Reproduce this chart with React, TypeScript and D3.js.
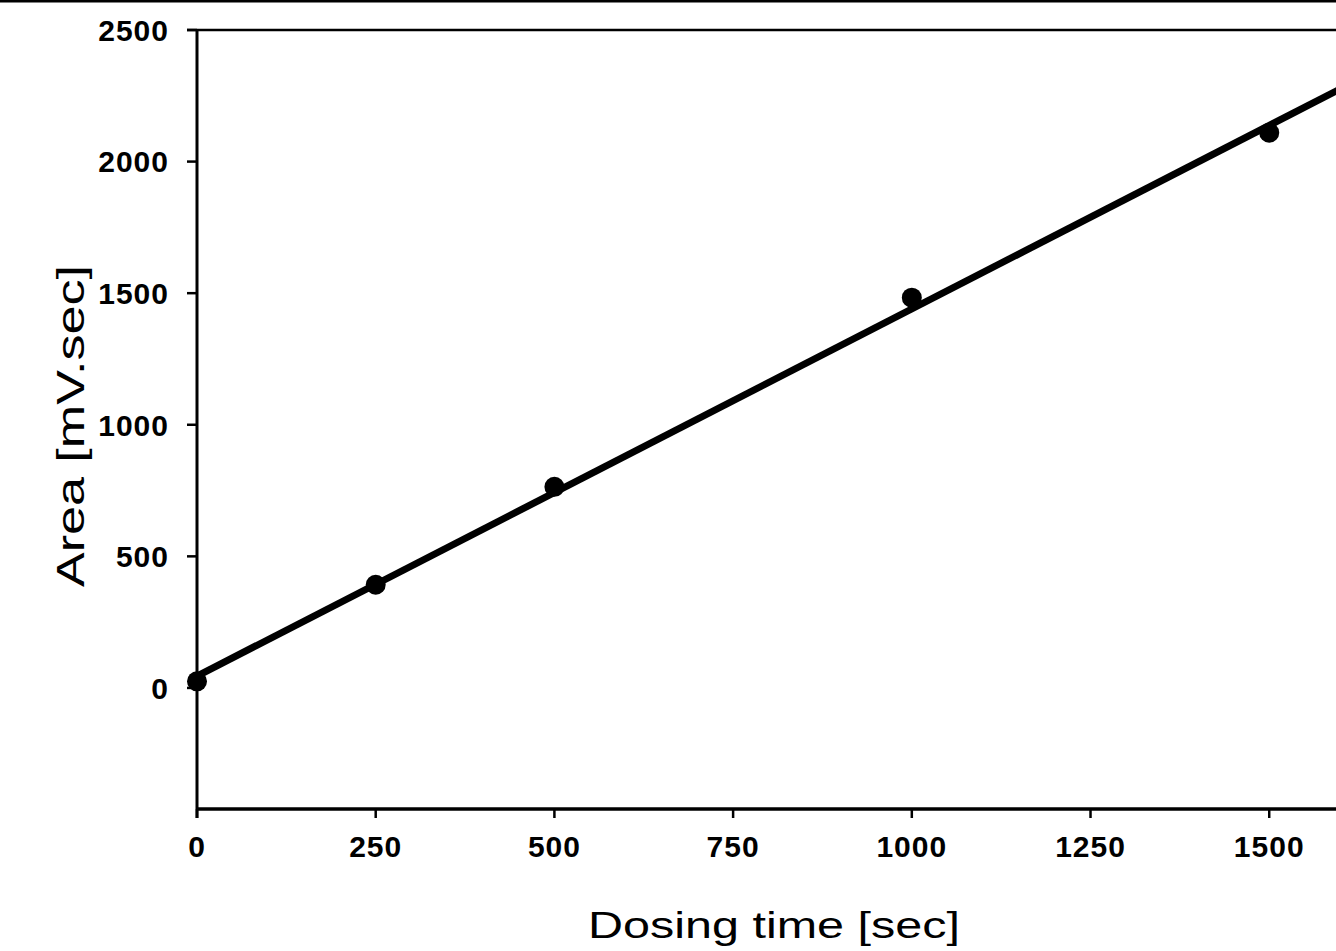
import React from "react";
import * as d3 from "d3";

const dosingTimes = [0, 250, 500, 1000, 1500];
const areas = [25, 392, 764, 1483, 2110];
const fitIntercept = 45;
const fitSlope = 1.395;
const xTicks = [0, 250, 500, 750, 1000, 1250, 1500];
const yTicks = [0, 500, 1000, 1500, 2000, 2500];
const xTitle = "Dosing time [sec]";
const yTitle = "Area [mV.sec]";

export default function App() {
  const W = 1336;
  const H = 951;
  const x = d3.scaleLinear().domain([0, 1600]).range([197, 1340.7]);
  const y = d3.scaleLinear().domain([-460, 2500]).range([809, 30]);
  const fitLine = d3
    .line<number>()
    .x((d) => x(d))
    .y((d) => y(fitIntercept + fitSlope * d));
  const tickFont = "'Liberation Sans', Arial, sans-serif";

  return (
    <svg
      width={W}
      height={H}
      viewBox={`0 0 ${W} ${H}`}
      style={{ position: "absolute", left: 0, top: 0, background: "#fff" }}
    >
      <rect x={0} y={0} width={W} height={H} fill="#fff" />
      {/* scan top border */}
      <rect x={0} y={0} width={W} height={2.5} fill="#000" />
      {/* top frame */}
      <line x1={187} x2={W} y1={y(2500)} y2={y(2500)} stroke="#000" strokeWidth={2.5} />
      {/* y axis */}
      <line x1={x(0)} x2={x(0)} y1={y(2500)} y2={818} stroke="#000" strokeWidth={3} />
      {/* x axis */}
      <line x1={x(0)} x2={W} y1={y(-460)} y2={y(-460)} stroke="#000" strokeWidth={3.5} />
      {yTicks.map((t) => (
        <g key={"y" + t}>
          <line x1={187} x2={x(0)} y1={y(t)} y2={y(t)} stroke="#000" strokeWidth={2.5} />
          <text
            x={169}
            y={y(t)}
            dy="0.36em"
            textAnchor="end"
            fontFamily={tickFont}
            fontWeight="bold"
            fontSize={30}
            letterSpacing={1}
            fill="#000"
          >
            {t}
          </text>
        </g>
      ))}
      {xTicks.map((t) => (
        <g key={"x" + t}>
          <line x1={x(t)} x2={x(t)} y1={y(-460)} y2={818} stroke="#000" strokeWidth={2.5} />
          <text
            x={x(t)}
            y={857}
            textAnchor="middle"
            fontFamily={tickFont}
            fontWeight="bold"
            fontSize={30}
            letterSpacing={1}
            fill="#000"
          >
            {t}
          </text>
        </g>
      ))}
      <path d={fitLine([0, 1600]) || ""} fill="none" stroke="#000" strokeWidth={7} />
      {dosingTimes.map((t, i) => (
        <circle key={"p" + i} cx={x(t)} cy={y(areas[i])} r={10} fill="#000" />
      ))}
      <text
        x={588}
        y={938}
        fontFamily={tickFont}
        fontSize={37}
        textLength={372}
        lengthAdjust="spacingAndGlyphs"
        fill="#000"
      >
        {xTitle}
      </text>
      <text
        transform={`translate(84, 587) rotate(-90)`}
        x={0}
        y={0}
        fontFamily={tickFont}
        fontSize={38}
        textLength={322}
        lengthAdjust="spacingAndGlyphs"
        fill="#000"
      >
        {yTitle}
      </text>
    </svg>
  );
}
